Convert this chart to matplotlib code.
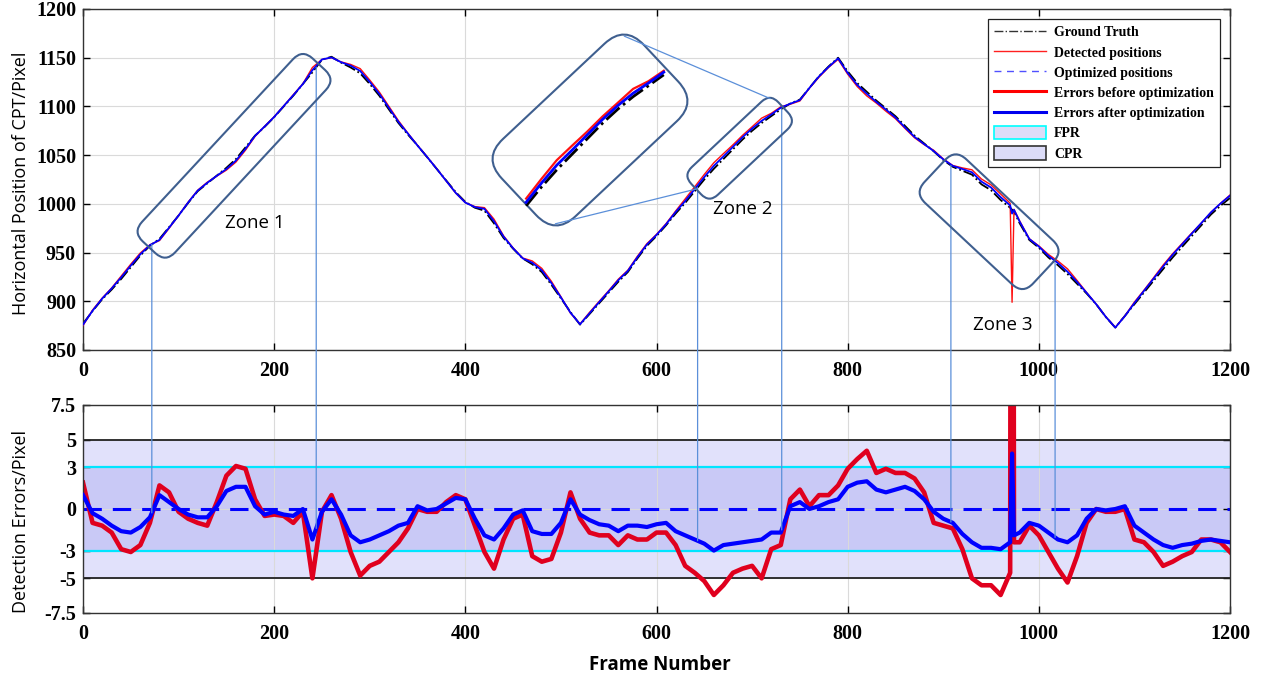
import numpy as np
import matplotlib
matplotlib.use("Agg")
import matplotlib.pyplot as plt
from matplotlib.patches import FancyBboxPatch, Patch, ConnectionPatch
from matplotlib.lines import Line2D
from matplotlib.transforms import Affine2D, IdentityTransform

plt.rcParams['axes.unicode_minus'] = False

# frame numbers (extra points around the jump at frame 972)
frames = list(range(0, 971, 10)) + [972, 974] + list(range(980, 1201, 10))

# ground truth position of the CPT (pixel)
gt = [877, 890, 902, 912, 923, 935, 947, 957, 964, 976,
      988, 1001, 1013, 1021, 1029, 1037, 1046, 1058, 1070, 1079,
      1089, 1100, 1111, 1123, 1135, 1148, 1151, 1145, 1140, 1134,
      1123, 1111, 1097, 1083, 1071, 1060, 1048, 1036, 1024, 1012,
      1002, 996, 993, 980, 965, 954, 944, 938, 930, 917,
      903, 889, 876, 887, 898, 909, 920, 930, 944, 957,
      967, 978, 990, 1001, 1013, 1025, 1036, 1046, 1056, 1066,
      1075, 1083, 1090, 1097, 1103, 1107, 1119, 1131, 1141, 1150,
      1136, 1124, 1115, 1106, 1098, 1090, 1080, 1070, 1062, 1054,
      1045, 1038, 1034, 1030, 1020, 1014, 1004, 996,
      994, 992,
      980, 963, 955, 945, 937, 928, 918, 908, 897, 884, 873, 885,
      897, 909, 921, 933, 945, 956, 967, 978, 989, 998, 1006]

# detection errors before optimization
err_before = [1.9, -1.0, -1.2, -1.7, -2.9, -3.1, -2.6, -1.0, 1.7, 1.2,
              -0.2, -0.7, -1.0, -1.2, 0.5, 2.4, 3.1, 2.9, 0.7, -0.5,
              -0.4, -0.5, -1.0, -0.2, -5.0, -0.2, 1.0, -0.7, -3.1, -4.8,
              -4.1, -3.8, -3.1, -2.4, -1.4, 0.0, -0.2, -0.2, 0.5, 1.0,
              0.7, -1.2, -3.1, -4.3, -2.2, -0.7, -0.4, -3.4, -3.8, -3.6,
              -1.7, 1.2, -0.7, -1.7, -1.9, -1.9, -2.6, -1.9, -2.2, -2.2,
              -1.7, -1.7, -2.6, -4.1, -4.6, -5.2, -6.2, -5.5, -4.6, -4.3,
              -4.1, -5.0, -2.9, -2.6, 0.7, 1.4, 0.2, 1.0, 1.0, 1.7,
              2.9, 3.6, 4.2, 2.6, 2.9, 2.6, 2.6, 2.2, 1.2, -1.0,
              -1.2, -1.4, -2.9, -5.0, -5.5, -5.5, -6.2, -4.6,
              95.0, -2.4,
              -2.4, -1.2, -1.9, -3.1, -4.3, -5.3, -3.4, -1.0, 0.0, -0.2, -0.2, 0.0,
              -2.2, -2.4, -3.1, -4.1, -3.8, -3.4, -3.1, -2.2, -2.2, -2.4, -3.1]

# detection errors after optimization
err_after = [1.0, -0.3, -0.7, -1.2, -1.6, -1.7, -1.3, -0.6, 1.0, 0.5,
             0.0, -0.4, -0.6, -0.6, 0.2, 1.3, 1.6, 1.6, 0.2, -0.4,
             -0.2, -0.4, -0.5, 0.0, -2.2, -0.2, 0.7, -0.4, -1.9, -2.4,
             -2.2, -1.9, -1.6, -1.2, -1.0, 0.2, -0.1, 0.0, 0.4, 0.8,
             0.7, -0.7, -1.9, -2.2, -1.4, -0.4, -0.1, -1.6, -1.8, -1.8,
             -1.0, 0.7, -0.4, -0.8, -1.1, -1.2, -1.6, -1.2, -1.2, -1.3,
             -1.1, -1.0, -1.6, -1.9, -2.2, -2.5, -3.0, -2.6, -2.5, -2.4,
             -2.3, -2.2, -1.7, -1.7, 0.2, 0.5, 0.0, 0.2, 0.5, 0.7,
             1.6, 1.9, 2.0, 1.4, 1.2, 1.4, 1.6, 1.3, 0.7, -0.2,
             -0.7, -1.0, -1.8, -2.4, -2.8, -2.8, -2.9, -2.4,
             4.0, -1.9,
             -1.7, -1.0, -1.2, -1.7, -2.2, -2.4, -1.9, -0.7, 0.0, -0.1, 0.0, 0.2,
             -1.2, -1.7, -2.2, -2.6, -2.8, -2.6, -2.5, -2.3, -2.2, -2.3, -2.4]

frames = np.array(frames)
gt = np.array(gt, float)
detected = gt - np.array(err_before)
optimized = gt - np.array(err_after)

x_ticks = [0, 200, 400, 600, 800, 1000, 1200]
top_yticks = [850, 900, 950, 1000, 1050, 1100, 1150, 1200]
bot_yticks = [-7.5, -5, -3, 0, 3, 5, 7.5]
bot_yticklabels = ['-7.5', '-5', '-3', '0', '3', '5', '7.5']

# zones: start / end frame
zone_frames = [(72, 244), (643, 731), (908, 1017)]
zone_names = ['Zone 1', 'Zone 2', 'Zone 3']
zone_text_pos = [(180, 980), (690, 995), (962, 876)]

RED = '#E0001E'
BLUE = '#0000FF'
BOXC = '#3F5F8F'
LINKC = '#5B8FD9'
serif = {'family': 'Liberation Serif', 'weight': 'bold', 'size': 14.5}

W, H = 1267, 678
fig = plt.figure(figsize=(W / 100, H / 100), dpi=100)
ax1 = fig.add_axes([83 / W, 1 - 350 / H, 1147 / W, 341 / H])
ax2 = fig.add_axes([83 / W, 1 - 613 / H, 1147 / W, 208 / H])

# ---- top plot
ax1.plot(frames, gt, color='k', ls='-.', lw=1.3, zorder=2)
ax1.plot(frames, detected, color='#FF1010', lw=1.0, zorder=3)
ax1.plot(frames, optimized, color=BLUE, lw=1.3, zorder=4)
ax1.set_xlim(0, 1200)
ax1.set_ylim(850, 1200)
ax1.set_xticks(x_ticks)
ax1.set_yticks(top_yticks)
ax1.set_ylabel('Horizontal Position of CPT/Pixel', family='Open Sans', fontsize=13)
ax1.yaxis.set_label_coords(-0.046, 0.49)

# ---- bottom plot
ax2.axhspan(-5, 5, color='#E1E1FB', lw=0, zorder=0)
ax2.axhspan(-3, 3, color='#C9C9F6', lw=0, zorder=0)
for v in (-5, 5):
    ax2.axhline(v, color='#222222', lw=1.3, zorder=1)
for v in (-3, 3):
    ax2.axhline(v, color='#00E5FF', lw=1.6, zorder=1)
ax2.axhline(0, color=BLUE, lw=2.2, dashes=(6, 3.6), zorder=1.5)
ax2.plot(frames, err_before, color=RED, lw=3.3, zorder=2)
ax2.plot(frames, err_after, color=BLUE, lw=3.0, zorder=3)
ax2.set_xlim(0, 1200)
ax2.set_ylim(-7.5, 7.5)
ax2.set_xticks(x_ticks)
ax2.set_yticks(bot_yticks)
ax2.set_yticklabels(bot_yticklabels)
ax2.set_ylabel('Detection Errors/Pixel', family='Open Sans', fontsize=13)
ax2.yaxis.set_label_coords(-0.046, 0.44)
ax2.set_xlabel('Frame Number', family='Open Sans', fontsize=13.5, weight='bold')
ax2.xaxis.set_label_coords(0.503, -0.2)

for ax in (ax1, ax2):
    ax.grid(True, color='#DADADA', lw=0.8, zorder=0)
    ax.set_axisbelow(True)
    ax.tick_params(direction='in', top=True, right=True, length=5, width=1, pad=5)
    ax.tick_params(axis='x', pad=8)
    for lab in ax.get_xticklabels() + ax.get_yticklabels():
        lab.set_fontproperties(serif)
        lab.set_fontsize(14.5)
    for s in ax.spines.values():
        s.set_color('#333333')
        s.set_linewidth(1.0)

# ---- legend
handles = [
    Line2D([], [], color='#333333', ls='-.', lw=1.0),
    Line2D([], [], color='#FF2020', lw=1.0),
    Line2D([], [], color='#5050FF', lw=1.0, dashes=(5, 4)),
    Line2D([], [], color='#FF0000', lw=2.2),
    Line2D([], [], color='#0000EE', lw=2.2),
    Patch(fc='#DCDCF8', ec='#00FFFF', lw=1.2),
    Patch(fc='#DCDCF8', ec='#333333', lw=1.2),
]
labels = ['Ground Truth', 'Detected positions', 'Optimized positions',
          'Errors before optimization', 'Errors after optimization', 'FPR', 'CPR']
leg = ax1.legend(handles, labels, loc='upper right', fancybox=False, framealpha=1,
                 edgecolor='#222222', prop={'family': 'Liberation Serif', 'weight': 'bold', 'size': 10},
                 handlelength=3.7, handleheight=1.1, labelspacing=0.42, borderaxespad=0.7,
                 handletextpad=0.6, borderpad=0.45)
leg.get_frame().set_linewidth(0.9)
leg.set_zorder(10)


# ---- zone boxes (display pixel geometry derived from the data)
def zone_geom(fa, fb, shift=0.0):
    p1 = ax1.transData.transform((fa, np.interp(fa, frames, gt)))
    p2 = ax1.transData.transform((fb, np.interp(fb, frames, gt)))
    d = p2 - p1
    L = np.hypot(*d)
    u = d / L
    n = np.array([-u[1], u[0]])
    c = (p1 + p2) / 2 + shift * n
    return c, L, u, n


def rbox(c, L, Wd, r, u, lw=1.5):
    ang = np.degrees(np.arctan2(u[1], u[0]))
    p = FancyBboxPatch((-L / 2, -Wd / 2), L, Wd, boxstyle='round,pad=0,rounding_size=%g' % r,
                       transform=Affine2D().rotate_deg(ang).translate(c[0], c[1]),
                       fill=False, ec=BOXC, lw=lw, zorder=5)
    fig.add_artist(p)


def corner(c, L, Wd, r, u, n, sx, sy):
    k = r * (1 - 1 / np.sqrt(2))
    return c + sx * (L / 2 - (k if sy else 0)) * u + sy * (Wd / 2 - k) * n


box_w = [45, 38, 60]
box_r = [14, 12, 15]
box_shift = [0, 0, -15]
box_extra = [8, 4, 6]
box_along = [0, 0, -5]
geo = []
for (fa, fb), bw, br, bs, be, ba in zip(zone_frames, box_w, box_r, box_shift, box_extra, box_along):
    c, L, u, n = zone_geom(fa, fb, bs)
    c = c + ba * u
    rbox(c, L + be, bw, br, u)
    geo.append((c, L + be, u, n))
    for f in (fa, fb):
        cp = ConnectionPatch(xyA=(f, np.interp(f, frames, gt)), coordsA=ax1.transData,
                             xyB=(f, np.interp(f, frames, err_after)), coordsB=ax2.transData,
                             color=LINKC, lw=0.9, zorder=4)
        fig.add_artist(cp)

for name, (tx, ty) in zip(zone_names, zone_text_pos):
    ax1.text(tx, ty, name, family='Open Sans', fontsize=13.5, ha='center', va='center', zorder=6)

# ---- enlarged view of zone 2
c2, L2, u2, n2 = geo[1]
inset_c = np.array([590.0, H - 130.0])
inset_L, inset_W, inset_r, scale = 195, 106, 28, 1.6
curve_off = np.array([8.0, -7.0])
rbox(inset_c, inset_L, inset_W, inset_r, u2)

sel = (frames >= 640) & (frames <= 730)
for ys, col, ls, lw in ((gt, 'k', '-.', 2.0), (detected, '#FF1010', '-', 1.6), (optimized, BLUE, '-', 2.0)):
    pts = ax1.transData.transform(np.column_stack([frames[sel], ys[sel]]))
    q = inset_c + curve_off + scale * (pts - c2)
    fig.add_artist(Line2D(q[:, 0], q[:, 1], color=col, ls=ls, lw=lw, transform=IdentityTransform(), zorder=6))

a = corner(inset_c, inset_L, inset_W, inset_r, u2, n2, 1, 1)
b = corner(c2, L2, 38, 12, u2, n2, 1, 1)
fig.add_artist(Line2D([a[0], b[0]], [a[1], b[1]], color=LINKC, lw=0.9, transform=IdentityTransform(), zorder=5))
a = corner(inset_c, inset_L, inset_W, inset_r, u2, n2, -1, -1)
b = corner(c2, L2, 38, 12, u2, n2, -1, 0)
fig.add_artist(Line2D([a[0], b[0]], [a[1], b[1]], color=LINKC, lw=0.9, transform=IdentityTransform(), zorder=5))

fig.savefig('out.png', dpi=100)
